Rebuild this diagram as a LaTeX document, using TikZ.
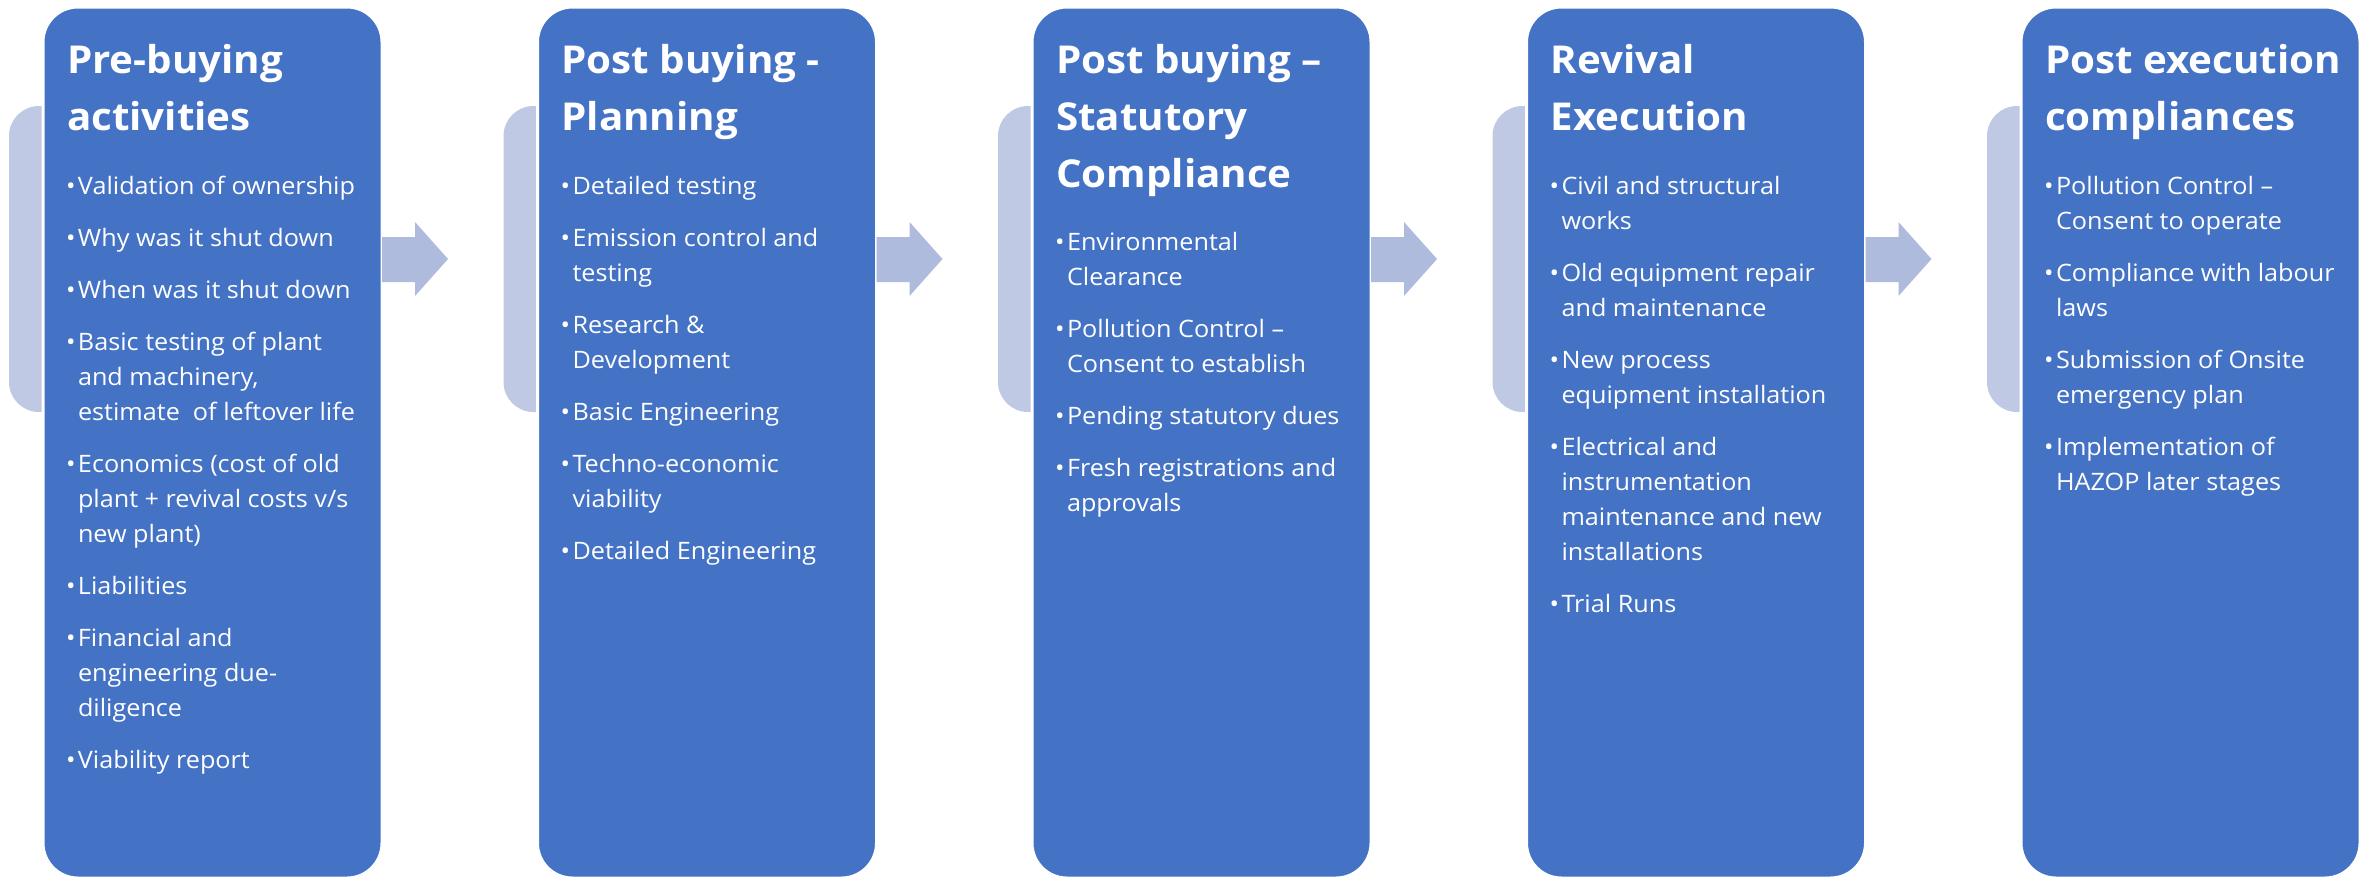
\documentclass[tikz,border=0pt]{standalone}
\usepackage{fontspec}
\setmainfont{Open Sans}[FakeStretch=1.05]
\usetikzlibrary{calc}
\definecolor{boxblue}{RGB}{68,114,196}
\definecolor{tabc}{RGB}{191,201,228}
\definecolor{arrc}{RGB}{175,187,221}
\newcommand\lns[1]{\begin{tabular}[t]{@{}l@{}}#1\end{tabular}}
\newcommand\bul{\llap{\textbullet\kern1.2pt}}
\begin{document}
\begin{tikzpicture}[x=0.5pt,y=-0.5pt,
  stage/.style={fill=boxblue, draw=white, line width=1.5pt, rounded corners=17.5pt,
    minimum width=169.5pt, minimum height=435.5pt, inner sep=0pt, outer sep=0pt, anchor=north west},
  tabshape/.style={fill=tabc, rounded corners=15pt},
  arrowfill/.style={fill=arrc},
  ttl/.style={anchor=base west, inner sep=0pt, outer sep=0pt, text=white,
    font=\fontsize{19.2}{28.5}\selectfont\bfseries},
  itm/.style={anchor=base west, inner sep=0pt, outer sep=0pt, text=white,
    font=\fontsize{12}{17.5}\selectfont},
]
\useasboundingbox (0,0) rectangle (2372,880);

% tabs
\fill[tabshape] (9,106) rectangle (80,412);
\fill[tabshape] (503.5,106) rectangle (574.5,412);
\fill[tabshape] (998,106) rectangle (1069,412);
\fill[tabshape] (1492.5,106) rectangle (1563.5,412);
\fill[tabshape] (1987,106) rectangle (2058,412);

% stage boxes
\node[stage] (s1) at (43,7) {};
\node[stage] (s2) at (537.5,7) {};
\node[stage] (s3) at (1032,7) {};
\node[stage] (s4) at (1526.5,7) {};
\node[stage] (s5) at (2021,7) {};

% block arrows
\foreach \s/\n in {s1/a1,s2/a2,s3/a3,s4/a4}{
  \coordinate (\n) at (\s.east |- 0,259);
  \fill[arrowfill] ($(\n)+(0,-22)$) -- ($(\n)+(33,-22)$) -- ($(\n)+(33,-37)$) --
    ($(\n)+(66,0)$) -- ($(\n)+(33,37)$) -- ($(\n)+(33,23)$) -- ($(\n)+(0,23)$) -- cycle;
}

% titles
\node[ttl] (t1) at (67,73) {\lns{Pre-buying\\activities}};
\node[ttl] (t2) at (561.5,73) {\lns{Post buying -\\Planning}};
\node[ttl] (t3) at (1056,73) {\lns{Post buying –\\Statutory\\Compliance}};
\node[ttl] (t4) at (1550.5,73) {\lns{Revival\\Execution}};
\node[ttl] (t5) at (2045,73) {\lns{Post execution\\compliances}};

% box 1
\node[itm] (i11) at (78,194) {\bul\lns{Validation of ownership}};
\node[itm] (i12) at (78,246) {\bul\lns{Why was it shut down}};
\node[itm] (i13) at (78,298) {\bul\lns{When was it shut down}};
\node[itm] (i14) at (78,350) {\bul\lns{Basic testing of plant\\and machinery,\\estimate~ of leftover life}};
\node[itm] (i15) at (78,472) {\bul\lns{Economics (cost of old\\plant + revival costs v/s\\new plant)}};
\node[itm] (i16) at (78,594) {\bul\lns{Liabilities}};
\node[itm] (i17) at (78,646) {\bul\lns{Financial and\\engineering due-\\diligence}};
\node[itm] (i18) at (78,768) {\bul\lns{Viability report}};

% box 2
\node[itm] (i21) at (572.5,194) {\bul\lns{Detailed testing}};
\node[itm] (i22) at (572.5,246) {\bul\lns{Emission control and\\testing}};
\node[itm] (i23) at (572.5,333) {\bul\lns{Research \&\\Development}};
\node[itm] (i24) at (572.5,420) {\bul\lns{Basic Engineering}};
\node[itm] (i25) at (572.5,472) {\bul\lns{Techno-economic\\viability}};
\node[itm] (i26) at (572.5,559) {\bul\lns{Detailed Engineering}};

% box 3
\node[itm] (i31) at (1067,250) {\bul\lns{Environmental\\Clearance}};
\node[itm] (i32) at (1067,337) {\bul\lns{Pollution Control –\\Consent to establish}};
\node[itm] (i33) at (1067,424) {\bul\lns{Pending statutory dues}};
\node[itm] (i34) at (1067,476) {\bul\lns{Fresh registrations and\\approvals}};

% box 4
\node[itm] (i41) at (1561.5,194) {\bul\lns{Civil and structural\\works}};
\node[itm] (i42) at (1561.5,281) {\bul\lns{Old equipment repair\\and maintenance}};
\node[itm] (i43) at (1561.5,368) {\bul\lns{New process\\equipment installation}};
\node[itm] (i44) at (1561.5,455) {\bul\lns{Electrical and\\instrumentation\\maintenance and new\\installations}};
\node[itm] (i45) at (1561.5,612) {\bul\lns{Trial Runs}};

% box 5
\node[itm] (i51) at (2056,194) {\bul\lns{Pollution Control –\\Consent to operate}};
\node[itm] (i52) at (2056,281) {\bul\lns{Compliance with labour\\laws}};
\node[itm] (i53) at (2056,368) {\bul\lns{Submission of Onsite\\emergency plan}};
\node[itm] (i54) at (2056,455) {\bul\lns{Implementation of\\HAZOP later stages}};
\end{tikzpicture}
\end{document}
